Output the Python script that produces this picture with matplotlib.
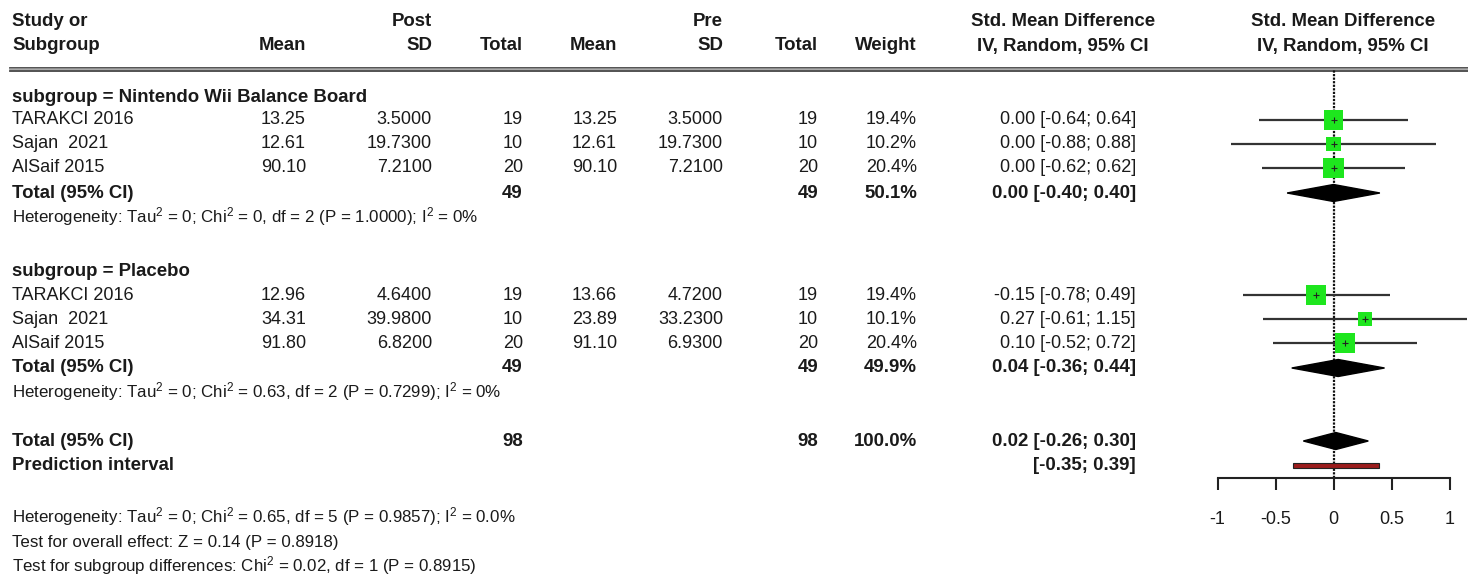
import matplotlib
matplotlib.use('Agg')
import matplotlib.pyplot as plt
import numpy as np

plt.rcParams['font.family'] = ['Liberation Sans', 'DejaVu Sans']
plt.rcParams['axes.unicode_minus'] = False
plt.rcParams['mathtext.fontset'] = 'custom'
plt.rcParams['mathtext.rm'] = 'Liberation Sans'
plt.rcParams['mathtext.it'] = 'Liberation Sans'
plt.rcParams['mathtext.default'] = 'regular'

# data
studies = ['TARAKCI 2016', 'Sajan  2021', 'AlSaif 2015']
group_names = ['Nintendo Wii Balance Board', 'Placebo']

post_mean = [[13.25, 12.61, 90.10], [12.96, 34.31, 91.80]]
post_sd = [[3.5000, 19.7300, 7.2100], [4.6400, 39.9800, 6.8200]]
post_n = [[19, 10, 20], [19, 10, 20]]
pre_mean = [[13.25, 12.61, 90.10], [13.66, 23.89, 91.10]]
pre_sd = [[3.5000, 19.7300, 7.2100], [4.7200, 33.2300, 6.9300]]
pre_n = [[19, 10, 20], [19, 10, 20]]
weight = [[19.4, 10.2, 20.4], [19.4, 10.1, 20.4]]
smd = [[0.00, 0.00, 0.00], [-0.15, 0.27, 0.10]]
ci_lo = [[-0.64, -0.88, -0.62], [-0.78, -0.61, -0.52]]
ci_hi = [[0.64, 0.88, 0.62], [0.49, 1.15, 0.72]]

sub_n = [49, 49]
sub_weight = [50.1, 49.9]
sub_smd = [0.00, 0.04]
sub_lo = [-0.40, -0.36]
sub_hi = [0.40, 0.44]
sub_het = ['Heterogeneity: Tau$^2$ = 0; Chi$^2$ = 0, df = 2 (P = 1.0000); I$^2$ = 0%',
           'Heterogeneity: Tau$^2$ = 0; Chi$^2$ = 0.63, df = 2 (P = 0.7299); I$^2$ = 0%']

total_n = 98
total_weight = 100.0
total_smd, total_lo, total_hi = 0.02, -0.26, 0.30
pred_lo, pred_hi = -0.35, 0.39

footer = ['Heterogeneity: Tau$^2$ = 0; Chi$^2$ = 0.65, df = 5 (P = 0.9857); I$^2$ = 0.0%',
          'Test for overall effect: Z = 0.14 (P = 0.8918)',
          'Test for subgroup differences: Chi$^2$ = 0.02, df = 1 (P = 0.8915)']

xticks = [-1, -0.5, 0, 0.5, 1]
xtick_labels = ['-1', '-0.5', '0', '0.5', '1']

# layout (pixel rows)
W, H = 1468, 577
head_y = [97, 271]
study_y = [[120, 144, 168], [295, 319, 343]]
tot_y = [193, 368]
het_y = [217, 392]
overall_y = 441
pred_y = 465
foot_y = [517, 542, 566]
axis_y = 478
top_y = 70

col_post_mean, col_post_sd, col_post_n = 306, 432, 523
col_pre_mean, col_pre_sd, col_pre_n = 617, 723, 818
col_weight, col_smd = 917, 1136

fs = 13
fs_b = 13.4
fs_s = 12.2
tc = '#1a1a1a'

fig = plt.figure(figsize=(W / 100, H / 100), dpi=100)
ax = fig.add_axes([0, 0, 1, 1])
ax.set_xlim(0, W)
ax.set_ylim(H, 0)
ax.axis('off')


def txt(x, y, s, ha='right', bold=False, size=None):
    ax.text(x, y, s, ha=ha, va='center', color=tc,
            fontsize=size or (fs_b if bold else fs),
            fontweight='bold' if bold else 'normal')


# header
txt(12, 21, 'Study or', ha='left', bold=True)
txt(12, 46, 'Subgroup', ha='left', bold=True)
txt(col_post_mean, 46, 'Mean', bold=True)
txt(col_post_sd, 21, 'Post', bold=True)
txt(col_post_sd, 46, 'SD', bold=True)
txt(col_post_n, 46, 'Total', bold=True)
txt(col_pre_mean, 46, 'Mean', bold=True)
txt(col_pre_sd, 21, 'Pre', bold=True)
txt(col_pre_sd, 46, 'SD', bold=True)
txt(col_pre_n, 46, 'Total', bold=True)
txt(col_weight, 46, 'Weight', bold=True)
txt(1063, 21, 'Std. Mean Difference', ha='center', bold=True)
txt(1063, 46, 'IV, Random, 95% CI', ha='center', bold=True)
txt(1343, 21, 'Std. Mean Difference', ha='center', bold=True)
txt(1343, 46, 'IV, Random, 95% CI', ha='center', bold=True)

ax.plot([10, W], [67.5, 67.5], color='#444444', lw=1.3)
ax.plot([10, W], [69.3, 69.3], color='#999999', lw=1.2)
ax.plot([10, W], [71, 71], color='#444444', lw=1.3)

for g in range(2):
    txt(12, head_y[g], 'subgroup = ' + group_names[g], ha='left', bold=True)
    for i in range(3):
        y = study_y[g][i]
        txt(12, y, studies[i], ha='left')
        txt(col_post_mean, y, f'{post_mean[g][i]:.2f}')
        txt(col_post_sd, y, f'{post_sd[g][i]:.4f}')
        txt(col_post_n, y, str(post_n[g][i]))
        txt(col_pre_mean, y, f'{pre_mean[g][i]:.2f}')
        txt(col_pre_sd, y, f'{pre_sd[g][i]:.4f}')
        txt(col_pre_n, y, str(pre_n[g][i]))
        txt(col_weight, y, f'{weight[g][i]:.1f}%')
        txt(col_smd, y, f'{smd[g][i]:.2f} [{ci_lo[g][i]:.2f}; {ci_hi[g][i]:.2f}]')
    y = tot_y[g]
    txt(12, y, 'Total (95% CI)', ha='left', bold=True)
    txt(col_post_n, y, str(sub_n[g]), bold=True)
    txt(col_pre_n, y, str(sub_n[g]), bold=True)
    txt(col_weight, y, f'{sub_weight[g]:.1f}%', bold=True)
    txt(col_smd, y, f'{sub_smd[g]:.2f} [{sub_lo[g]:.2f}; {sub_hi[g]:.2f}]', bold=True)
    txt(12, het_y[g], sub_het[g], ha='left', size=fs_s)

txt(12, overall_y, 'Total (95% CI)', ha='left', bold=True)
txt(col_post_n, overall_y, str(total_n), bold=True)
txt(col_pre_n, overall_y, str(total_n), bold=True)
txt(col_weight, overall_y, f'{total_weight:.1f}%', bold=True)
txt(col_smd, overall_y, f'{total_smd:.2f} [{total_lo:.2f}; {total_hi:.2f}]', bold=True)
txt(12, pred_y, 'Prediction interval', ha='left', bold=True)
txt(col_smd, pred_y, f'[{pred_lo:.2f}; {pred_hi:.2f}]', bold=True)
for y, s in zip(foot_y, footer):
    txt(12, y, s, ha='left', size=fs_s)

# forest panel, x in SMD units (116 px per unit, 0 at 1333.5 px)
px0, scale = 1333.5, 116.0
left_px = 1180
fx = fig.add_axes([left_px / W, (H - axis_y) / H, (W - left_px) / W, (axis_y - top_y) / H])
fx.set_xlim((left_px - px0) / scale, (W - px0) / scale)
fx.set_ylim(axis_y, top_y)
fx.patch.set_alpha(0)
for s in ['top', 'right', 'left']:
    fx.spines[s].set_visible(False)
fx.spines['bottom'].set_bounds(-1, 1)
fx.spines['bottom'].set_linewidth(1.5)
fx.spines['bottom'].set_color('#222222')
fx.set_yticks([])
fx.set_xticks(xticks)
fx.set_xticklabels(xtick_labels)
fx.tick_params(axis='x', direction='out', length=8.5, width=1.5, color='#222222',
               pad=15, labelsize=13, labelcolor=tc)

fx.axvline(0, color='#111111', lw=1.6, ls=(0, (1, 0.6)), zorder=1)

dh = 8.5
for g in range(2):
    ys = study_y[g]
    fx.hlines(ys, ci_lo[g], ci_hi[g], color='#333333', lw=1.6, zorder=2)
    fx.scatter(smd[g], ys, s=np.array(weight[g]) * 10.2, marker='s',
               color='#1ee61e', edgecolors='none', zorder=3)
    fx.scatter(smd[g], ys, s=18, marker='+', color='#222222', lw=0.8, zorder=4)
    m, lo, hi, y = sub_smd[g], sub_lo[g], sub_hi[g], tot_y[g]
    fx.fill([lo, m, hi, m], [y, y - dh, y, y + dh], color='black', zorder=3)

m, lo, hi, y = total_smd, total_lo, total_hi, overall_y
fx.fill([lo, m, hi, m], [y, y - dh, y, y + dh], color='black', zorder=3)
fx.barh(pred_y, pred_hi - pred_lo, left=pred_lo, height=5, color='#9b1c1c',
        edgecolor='#222222', linewidth=0.8, zorder=3)

fig.savefig('out.png', dpi=100)
